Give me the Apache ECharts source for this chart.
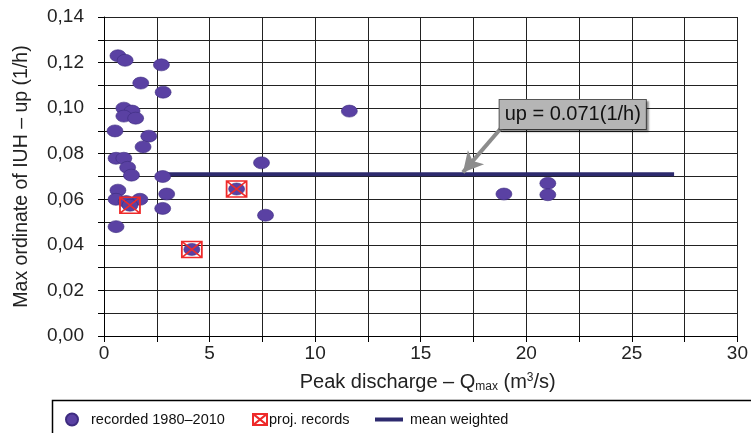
<!DOCTYPE html>
<html>
<head>
<meta charset="utf-8">
<script src="https://cdn.jsdelivr.net/npm/echarts@6/dist/echarts.min.js"></script>
<style>
html,body{margin:0;padding:0;background:#fff;}
#c{width:751px;height:433px;}
</style>
</head>
<body>
<div id="c"></div>
<script>
// Recorded events 1980–2010: [peak discharge Qmax (m3/s), up (1/h)]
const recordedQ = [0.66, 1.0, 2.72, 1.74, 2.8, 0.94, 1.33, 0.94, 1.5, 0.52, 2.12, 1.85, 0.57, 0.94, 1.12, 1.3, 2.78, 0.66, 2.97, 0.57, 1.7, 1.05, 1.23, 2.78, 0.57, 7.46, 6.28, 7.65, 4.16, 11.62, 18.94, 21.02, 21.02];
const recordedUp = [0.123, 0.121, 0.119, 0.111, 0.107, 0.100, 0.0987, 0.0965, 0.0956, 0.090, 0.0877, 0.083, 0.078, 0.078, 0.074, 0.0706, 0.070, 0.064, 0.0623, 0.060, 0.060, 0.059, 0.0574, 0.056, 0.048, 0.076, 0.0645, 0.053, 0.038, 0.0987, 0.0623, 0.067, 0.062];
// Project records
const projQ = [1.23, 4.16, 6.28];
const projUp = [0.0574, 0.038, 0.0645];
// Mean weighted line
const meanQ = [2.7, 27];
const meanUp = 0.071;
// Annotation
const annotText = 'up = 0.071(1/h)';
const annotAt = [22.2, 0.0972];
const arrowFrom = [18.8, 0.0912];
const arrowTo = [17.0, 0.0718];

const FONT = 'Arial, "Liberation Sans", sans-serif';
const PURPLE = '#5a41a3';
const NAVY = '#2d2a6e';
const RED = '#ee2a2a';
const projSymbol = 'path://M0,0 L20,0 L20,16 L0,16 Z M0,0 L20,16 M20,0 L0,16';

const chart = echarts.init(document.getElementById('c'), null, {renderer: 'canvas'});
const option = {
  animation: false,
  backgroundColor: '#fff',
  grid: {left: 104, right: 12, top: 17, bottom: 97, containLabel: false},
  xAxis: {
    type: 'value', min: 0, max: 30, interval: 2.5,
    name: 'Peak discharge – Q{sub|max} (m{sup|3}/s)',
    nameLocation: 'middle', nameGap: 36,
    nameTextStyle: {
      fontFamily: FONT, fontSize: 20, color: '#222', padding: [0, 0, 0, 14],
      rich: {
        sub: {fontFamily: FONT, fontSize: 12, color: '#222', verticalAlign: 'bottom', padding: [9, 0, 0, 0]},
        sup: {fontFamily: FONT, fontSize: 12, color: '#222', verticalAlign: 'top', padding: [0, 0, 9, 0]}
      }
    },
    axisLine: {lineStyle: {color: '#000', width: 1}},
    axisTick: {show: true, length: 6, lineStyle: {color: '#000'}},
    axisLabel: {
      fontFamily: FONT, fontSize: 19, color: '#222', margin: 8,
      formatter: v => (Math.round(v * 2) % 10 === 0 ? String(v) : '')
    },
    splitLine: {show: true, lineStyle: {color: '#222', width: 1}}
  },
  yAxis: {
    type: 'value', min: 0, max: 0.14, interval: 0.01,
    name: 'Max ordinate of IUH – up (1/h)',
    nameLocation: 'middle', nameGap: 72, nameRotate: 90,
    nameTextStyle: {fontFamily: FONT, fontSize: 19.5, color: '#222'},
    axisLine: {show: true, lineStyle: {color: '#000', width: 1}},
    axisTick: {show: true, length: 6, lineStyle: {color: '#000'}},
    axisLabel: {
      fontFamily: FONT, fontSize: 19, color: '#222', margin: 20,
      formatter: v => (Math.round(v * 100) % 2 === 0 ? v.toFixed(2).replace('.', ',') : '')
    },
    splitLine: {show: true, lineStyle: {color: '#222', width: 1}}
  },
  legend: [
    {data: [{name: 'recorded 1980–2010', icon: 'circle'}], left: 60, top: 407, itemWidth: 12, itemHeight: 12,
     textStyle: {fontFamily: FONT, fontSize: 14.5, color: '#111', padding: [0, 0, 0, 8]}},
    {data: [{name: 'proj. records', icon: projSymbol}], left: 247, top: 407, itemWidth: 14, itemHeight: 15,
     textStyle: {fontFamily: FONT, fontSize: 14.5, color: '#111', padding: [0, 0, 0, -3]}},
    {data: [{name: 'mean weighted', icon: 'rect'}], left: 370, top: 407, itemWidth: 28, itemHeight: 4,
     textStyle: {fontFamily: FONT, fontSize: 14.5, color: '#111', padding: [0, 0, 0, 2]}}
  ],
  graphic: [
    {type: 'rect', left: 50, top: 398, shape: {width: 720, height: 40}, style: {fill: 'none', stroke: '#000', lineWidth: 1.5}, silent: true}
  ],
  series: [
    {
      name: 'mean weighted', type: 'line', symbol: 'none', z: 3,
      data: meanQ.map(q => [q, meanUp]),
      lineStyle: {color: NAVY, width: 4}, itemStyle: {color: NAVY},
      markLine: {
        silent: true, symbol: ['none', 'arrow'], symbolSize: [16, 20],
        lineStyle: {color: '#8c8c8c', width: 4, type: 'solid'},
        label: {show: false},
        data: [[{coord: arrowFrom}, {coord: arrowTo}]]
      },
      markPoint: {
        silent: true, symbol: 'rect', symbolSize: 1, itemStyle: {color: 'transparent'},
        label: {
          show: true, position: 'inside', formatter: annotText,
          fontFamily: FONT, fontSize: 20, color: '#111',
          backgroundColor: '#b5b5b5', borderColor: '#555', borderWidth: 1,
          padding: [5, 5, 4, 5],
          shadowColor: 'rgba(0,0,0,0.35)', shadowOffsetX: 2, shadowOffsetY: 2, shadowBlur: 2
        },
        data: [{coord: annotAt}]
      }
    },
    {
      name: 'recorded 1980–2010', type: 'scatter', z: 4,
      symbol: 'circle', symbolSize: [16, 12],
      data: recordedQ.map((q, i) => [q, recordedUp[i]]),
      itemStyle: {color: PURPLE, borderColor: '#3e2c80', borderWidth: 0.6, opacity: 1}
    },
    {
      name: 'proj. records', type: 'scatter', z: 5,
      symbol: projSymbol, symbolSize: [20, 16],
      data: projQ.map((q, i) => [q, projUp[i]]),
      itemStyle: {color: 'rgba(255,255,255,0)', borderColor: RED, borderWidth: 1.6, opacity: 1}
    }
  ]
};
chart.setOption(option);
</script>
</body>
</html>
